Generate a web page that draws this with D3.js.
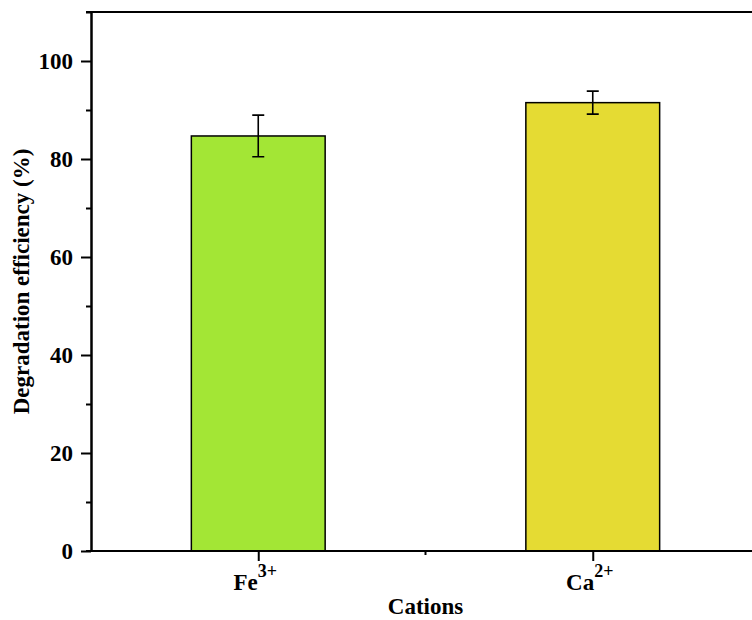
<!DOCTYPE html>
<meta charset="utf-8">
<style>

body { margin: 0; background: #fff; }
text { font-family: "Liberation Serif", "Times New Roman", serif; font-weight: bold; fill: #000; }
.axis path, .axis line { stroke: #000; stroke-width: 2px; }
.bar { stroke: #000; stroke-width: 1.5px; }
.err { stroke: #000; stroke-width: 1.6px; fill: none; }

</style>
<svg width="752" height="620">
  <rect fill="#fff" width="100%" height="100%"></rect>
</svg>
<script src="https://cdn.jsdelivr.net/npm/d3@7"></script>
<script>

var cations = ["Fe", "Ca"],
    charges = ["3+", "2+"],
    efficiency = [84.7, 91.5],
    errors = [4.25, 2.35],
    colors = ["#a3e635", "#e5db33"],
    yTicks = [0, 20, 40, 60, 80, 100],
    yMinor = [10, 30, 50, 70, 90, 110];

var plotLeft = 91, plotTop = 12, plotBottom = 551, plotRight = 760;

var svg = d3.select("svg");

var x = d3.scalePoint()
    .domain(cations)
    .range([plotLeft, plotRight])
    .padding(0.5);

var y = d3.scaleLinear()
    .domain([0, 110])
    .range([plotBottom, plotTop]);

var barWidth = x.step() * 0.4;

// bars
svg.selectAll(".bar")
    .data(cations)
  .enter().append("rect")
    .attr("class", "bar")
    .attr("x", function(d) { return x(d) - barWidth / 2; })
    .attr("y", function(d, i) { return y(efficiency[i]); })
    .attr("width", barWidth)
    .attr("height", function(d, i) { return y(0) - y(efficiency[i]); })
    .attr("fill", function(d, i) { return colors[i]; });

// error bars
svg.selectAll(".err")
    .data(cations)
  .enter().append("path")
    .attr("class", "err")
    .attr("d", function(d, i) {
      var cx = x(d), hi = y(efficiency[i] + errors[i]), lo = y(efficiency[i] - errors[i]), w = 6;
      return "M" + (cx - w) + "," + hi + "H" + (cx + w) +
             "M" + cx + "," + hi + "V" + lo +
             "M" + (cx - w) + "," + lo + "H" + (cx + w);
    });

// y axis
svg.append("g")
    .attr("class", "axis")
    .attr("transform", "translate(" + plotLeft + ",0)")
    .call(d3.axisLeft(y).tickValues(yMinor).tickSize(5).tickFormat("").tickSizeOuter(0));

var yAxis = svg.append("g")
    .attr("class", "axis")
    .attr("transform", "translate(" + plotLeft + ",0)")
    .call(d3.axisLeft(y).tickValues(yTicks).tickSize(10).tickPadding(8).tickSizeOuter(0));

yAxis.selectAll("text").style("font-size", "23px").attr("dy", "0.34em");

// top frame line
svg.append("line")
    .attr("x1", plotLeft - 5).attr("x2", plotRight)
    .attr("y1", plotTop).attr("y2", plotTop)
    .attr("stroke", "#000").attr("stroke-width", 2);

// x axis
var xAxis = svg.append("g")
    .attr("class", "axis")
    .attr("transform", "translate(0," + plotBottom + ")")
    .call(d3.axisBottom(x).tickSize(10).tickFormat("").tickSizeOuter(0));

xAxis.select(".domain").attr("d", "M" + (plotLeft - 5) + ",0H" + plotRight);

svg.append("line")
    .attr("x1", plotLeft + x.step()).attr("x2", plotLeft + x.step())
    .attr("y1", plotBottom).attr("y2", plotBottom + 4)
    .attr("stroke", "#000").attr("stroke-width", 2);

var labels = svg.selectAll(".xlab")
    .data(cations)
  .enter().append("text")
    .attr("x", function(d) { return x(d) - 3; })
    .attr("y", 590)
    .attr("text-anchor", "middle")
    .style("font-size", "23px");

labels.append("tspan").text(function(d) { return d; });
labels.append("tspan")
    .attr("dy", "-0.7em")
    .style("font-size", "18px")
    .text(function(d, i) { return charges[i]; });

// axis titles
svg.append("text")
    .attr("x", plotLeft + x.step())
    .attr("y", 614)
    .attr("text-anchor", "middle")
    .style("font-size", "23px")
    .text("Cations");

svg.append("text")
    .attr("transform", "translate(29," + (plotTop + plotBottom) / 2 + ") rotate(-90)")
    .attr("text-anchor", "middle")
    .style("font-size", "23px")
    .text("Degradation efficiency (%)");

</script>
